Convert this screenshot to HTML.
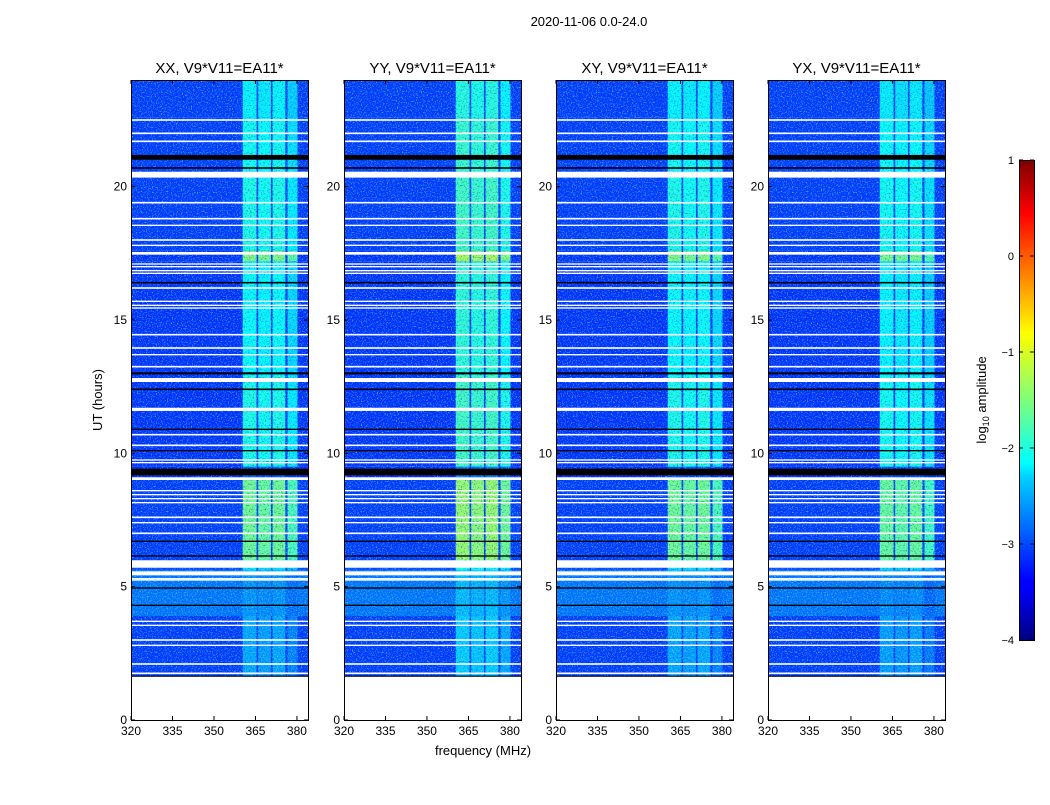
<!DOCTYPE html>
<html><head><meta charset="utf-8">
<style>
body{margin:0;background:#fff;}
svg text{font-family:"Liberation Sans",sans-serif;}
</style></head>
<body>
<svg id="c" width="1050" height="800" viewBox="0 0 1050 800" xmlns="http://www.w3.org/2000/svg">
<defs>
<filter id="noise" x="0" y="0" width="100%" height="100%">
<feTurbulence type="fractalNoise" baseFrequency="0.8" numOctaves="2" seed="3"/>
<feColorMatrix type="matrix" values="0 0 0 0 0.1  0 0 0 0 0.75  0 0 0 0 1  0 0 0 4 -2.1"/>
</filter>
<filter id="noise2" x="0" y="0" width="100%" height="100%">
<feTurbulence type="fractalNoise" baseFrequency="0.75" numOctaves="2" seed="11"/>
<feColorMatrix type="matrix" values="0 0 0 0 0  0 0 0 0 0.05  0 0 0 0 0.55  0 0 0 4 -2.2"/>
</filter>
<linearGradient id="jet" x1="0" y1="1" x2="0" y2="0">
<stop offset="0" stop-color="#00007f"/><stop offset="0.11" stop-color="#0000ff"/>
<stop offset="0.125" stop-color="#0000ff"/><stop offset="0.34" stop-color="#00d0ff"/>
<stop offset="0.37" stop-color="#00ffff"/><stop offset="0.5" stop-color="#7dff7a"/>
<stop offset="0.64" stop-color="#ffff00"/><stop offset="0.89" stop-color="#ff0000"/>
<stop offset="1" stop-color="#7f0000"/>
</linearGradient>
</defs>
<text x="589" y="26" font-size="13" text-anchor="middle">2020-11-06 0.0-24.0</text>
<text x="483" y="755" font-size="13" text-anchor="middle">frequency (MHz)</text>
<text transform="translate(102,400) rotate(-90)" font-size="13" text-anchor="middle">UT (hours)</text>
<g id="panels"></g>
<g id="cbar"></g>
<text transform="translate(986,400) rotate(-90)" font-size="13" text-anchor="middle">log<tspan font-size="9" dy="3">10</tspan><tspan dy="-3"> amplitude</tspan></text>
</svg>
<script>
const panelTitles = ["XX, V9*V11=EA11*","YY, V9*V11=EA11*","XY, V9*V11=EA11*","YX, V9*V11=EA11*"];
const panelOffsets = [0, 0.2, 0, -0.05];
const xTicks = [320,335,350,365,380];
const yTicks = [0,5,10,15,20];
const cbTicks = [1,0,-1,-2,-3,-4];
const subBandsLo = [360.4,366.0,371.2,376.6];
const subBandsHi = [365.4,370.6,375.8,380.2];
const subBandOffsets = [0.05,0,0.05,-0.15];
const segStart = [1.62,3.9,5.6,6.0,9.1,9.5,12.9,17.2,17.6,20.5,22.6];
const segEnd   = [3.9,5.6,6.0,9.1,9.5,12.9,17.2,17.6,20.5,22.6,24.0];
const segBand  = [-2.6,-2.7,-2.3,-1.6,-3.0,-2.05,-2.15,-1.5,-2.05,-2.1,-2.2];
const segBg    = [-3.1,-2.8,-3.0,-3.1,-3.2,-3.15,-3.15,-3.15,-3.1,-3.1,-3.1];
const whiteH = [22.5,22.0,21.7,20.45,19.4,18.8,18.55,18.0,17.8,17.5,17.1,17.0,16.85,16.75,16.2,15.7,15.55,15.45,14.45,13.95,13.7,13.25,12.75,11.65,10.7,10.3,9.75,9.65,9.05,8.6,8.45,8.3,8.15,7.6,7.4,7.0,5.85,5.5,5.3,5.25,3.7,3.55,3.0,2.8,2.1,1.75];
const whiteW = [0.06,0.06,0.06,0.22,0.06,0.06,0.05,0.06,0.05,0.1,0.05,0.05,0.05,0.05,0.06,0.05,0.05,0.05,0.06,0.06,0.05,0.06,0.15,0.12,0.06,0.06,0.05,0.05,0.1,0.05,0.05,0.05,0.05,0.06,0.05,0.06,0.28,0.15,0.05,0.05,0.05,0.05,0.06,0.05,0.06,0.06];
const blackH = [21.1,20.7,16.4,13.0,12.4,10.9,10.1,9.3,6.7,6.15,4.95,4.3,1.64];
const blackW = [0.18,0.06,0.06,0.08,0.06,0.05,0.05,0.25,0.05,0.05,0.05,0.05,0.05];

const PX=[131,344,556,768], PW=177, PT=80, PB=720;
const NS="http://www.w3.org/2000/svg";
function xs(p,f){return PX[p]+(f-320)*(PW/64);}
function ys(h){return PB-h*(PB-PT)/24;}
function jet(v){const t=Math.max(0,Math.min(1,(v+4)/5));const c=x=>Math.round(255*Math.max(0,Math.min(1,1.5-Math.abs(x))));return `rgb(${c(4*t-3)},${c(4*t-2)},${c(4*t-1)})`;}
function mk(tag,attrs,parent){const e=document.createElementNS(NS,tag);for(const k in attrs)e.setAttribute(k,attrs[k]);parent.appendChild(e);return e;}
const root=document.getElementById('panels');
for(let p=0;p<4;p++){
  const g=mk('g',{},root);
  
  
  for(let s=0;s<segStart.length;s++){
    const y1=ys(segEnd[s]),y2=ys(segStart[s]);
    const bg=mk('rect',{x:PX[p],y:y1,width:PW,height:y2-y1,fill:jet(segBg[s])},g);
    
    
    for(let b=0;b<subBandsLo.length;b++){
      const x1=xs(p,subBandsLo[b]),x2=xs(p,subBandsHi[b]);
      const r=mk('rect',{x:x1,y:y1,width:x2-x1,height:y2-y1,fill:jet(segBand[s]+panelOffsets[p]+subBandOffsets[b])},g);
      
      
    }
  }
  const nz=mk('rect',{x:PX[p],y:ys(24),width:PW,height:ys(1.62)-ys(24),filter:'url(#noise)',opacity:0.8},g);
  
  
  const nz2=mk('rect',{x:PX[p],y:ys(24),width:PW,height:ys(1.62)-ys(24),filter:'url(#noise2)',opacity:0.7},g);
  
  
  for(let i=0;i<whiteH.length;i++){
    const r=mk('rect',{x:PX[p],y:ys(whiteH[i]+whiteW[i]/2),width:PW,height:Math.max(1.2,whiteW[i]*26.67),fill:'#fff'},g);
    
    
  }
  for(let i=0;i<blackH.length;i++){
    const r=mk('rect',{x:PX[p],y:ys(blackH[i]+blackW[i]/2),width:PW,height:Math.max(1.2,blackW[i]*26.67),fill:'#000'},g);
    
    
  }
  mk('rect',{x:PX[p],y:ys(1.62),width:PW,height:PB-ys(1.62),fill:'#fff'},g);
  const fr=mk('rect',{x:PX[p]+0.5,y:PT+0.5,width:PW,height:PB-PT,fill:'none',stroke:'#000','stroke-width':1},g);
  
  
  const t=mk('text',{x:PX[p]+PW/2,y:73,'font-size':15,'text-anchor':'middle'},g);
  t.textContent=panelTitles[p];
  
  
  xTicks.forEach(v=>{
    const x=xs(p,v);
    mk('line',{x1:x,x2:x,y1:PB,y2:PB-4,stroke:'#000'},g);
    mk('line',{x1:x,x2:x,y1:PT,y2:PT+4,stroke:'#000'},g);
    const tt=mk('text',{x:x,y:PB+15,'font-size':12,'text-anchor':'middle'},g);
    tt.textContent=v;
    
    
  });
  yTicks.forEach(v=>{
    const y=ys(v);
    mk('line',{x1:PX[p],x2:PX[p]+4,y1:y,y2:y,stroke:'#000'},g);
    mk('line',{x1:PX[p]+PW,x2:PX[p]+PW-4,y1:y,y2:y,stroke:'#000'},g);
    const tt=mk('text',{x:PX[p]-4,y:y+4,'font-size':12,'text-anchor':'end'},g);
    tt.textContent=v;
    
    
  });
}
const cb=document.getElementById('cbar');
mk('rect',{x:1019.5,y:160.5,width:15,height:480,fill:'url(#jet)',stroke:'#000'},cb);
cbTicks.forEach(v=>{
  const y=640-(v+4)*96;
  mk('line',{x1:1019,x2:1023,y1:y,y2:y,stroke:'#000'},cb);
  mk('line',{x1:1034,x2:1030,y1:y,y2:y,stroke:'#000'},cb);
  const tt=mk('text',{x:1014,y:y+4,'font-size':11,'text-anchor':'end'},cb);
  tt.textContent=v<0?'\u2212'+(-v):v;
  
  
});
</script>
</body></html>
